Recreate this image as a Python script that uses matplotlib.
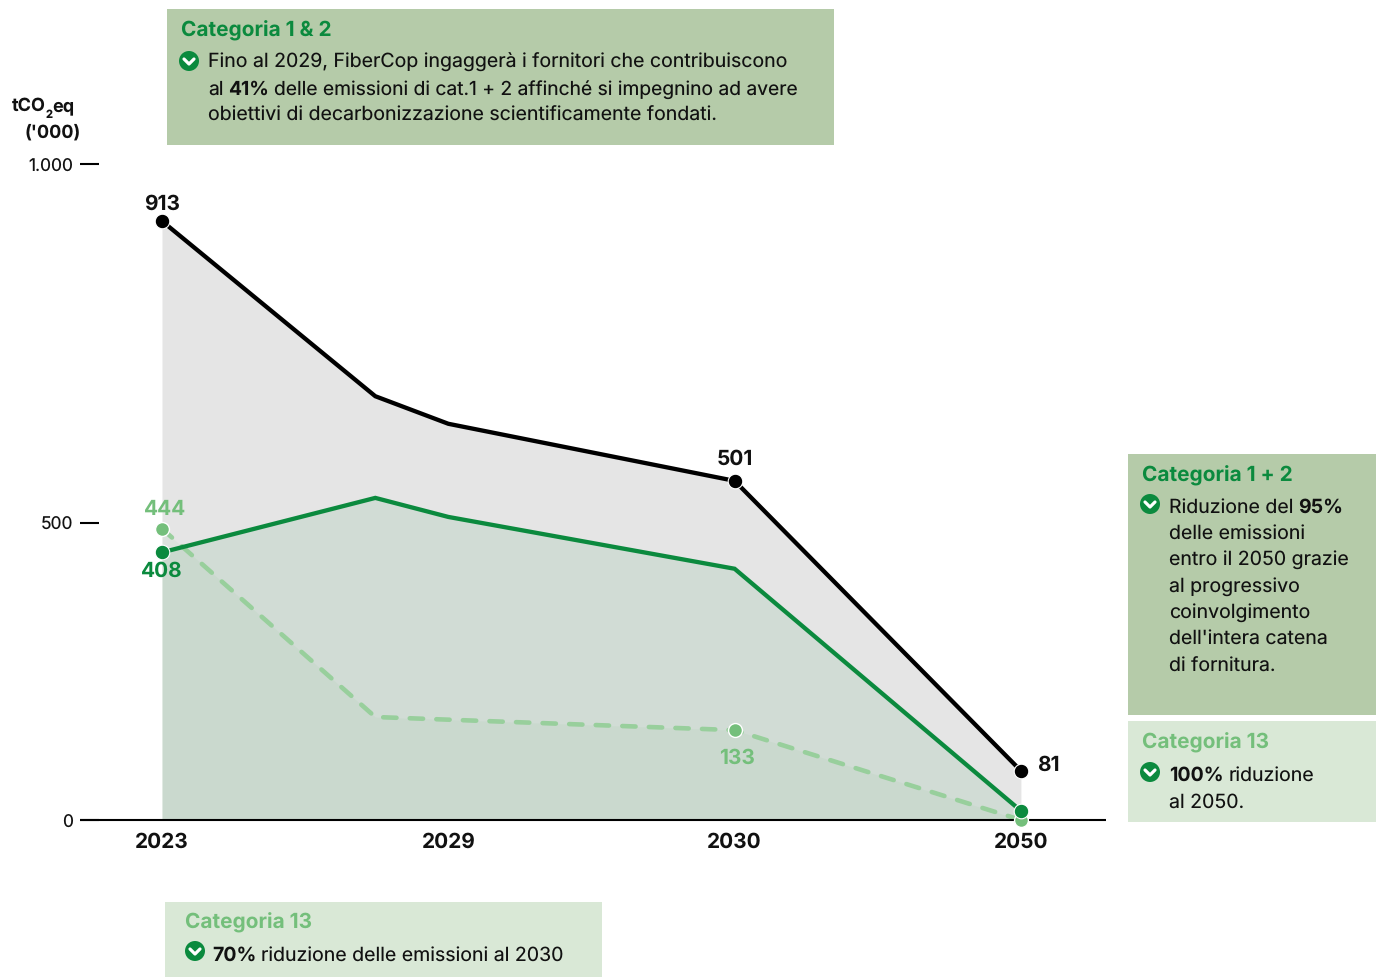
import matplotlib
matplotlib.use('Agg')
import matplotlib.pyplot as plt
from matplotlib.patches import Rectangle, Circle

plt.rcParams['font.family'] = ['Inter', 'DejaVu Sans']
plt.rcParams['text.hinting'] = 'no_hinting'
plt.rcParams['text.hinting_factor'] = 1

# x position 0..3 are the labelled years, the rest are unlabelled knots
years = ['2023', '2029', '2030', '2050']
year_pos = [0, 1, 2, 3]
x_total = [0, 0.745, 1, 2, 3]
total = [913, 646, 604, 517, 75]
cat12 = [408, 491, 462, 383, 14]
x_cat13 = [0, 0.745, 2, 3]
cat13 = [444, 157, 137, 0]
# the 500 tick sits off-scale in the original
ytick_pos = [0, 453, 1000]
ytick_labels = ['0', '500', '1.000']

BLACK = '#000000'
GREEN = '#0B8A3E'
LIGHT = '#74BF7B'
DASH = '#98CF9C'
BOX_DARK = '#B5CBA9'
BOX_LIGHT = '#D9E8D6'
INK = '#111111'
W, H = 1376, 977

fig = plt.figure(figsize=(W / 100, H / 100), dpi=100, facecolor='white')

# overlay in pixel coordinates for the note boxes
bg = fig.add_axes([0, 0, 1, 1])
bg.set_xlim(0, W)
bg.set_ylim(H, 0)
bg.axis('off')

ax = fig.add_axes([80 / W, 1 - 820 / H, 1026 / W, 656 / H])
ax.patch.set_visible(False)
ax.set_xlim(-82 / 286.3, 944 / 286.3)
ax.set_ylim(0, 1000)

ax.fill_between(x_total, total, color='#E5E5E5', lw=0, zorder=1)
ax.fill_between(x_total, cat12, color=GREEN, alpha=0.09, lw=0, zorder=2)
ax.fill_between(x_cat13, cat13, color=LIGHT, alpha=0.075, lw=0, zorder=3)

ax.plot(x_cat13, cat13, color=DASH, lw=3.3, dashes=(2.9, 2.9), dash_capstyle='round',
        zorder=4, clip_on=False)
ax.plot(x_cat13, cat13, ls='none', marker='o', ms=10, mfc=LIGHT, mec='white', mew=1,
        markevery=[0, 2, 3], zorder=5, clip_on=False)
ax.plot(x_total, cat12, color=GREEN, lw=3.1, zorder=6, solid_joinstyle='miter', clip_on=False)
ax.plot(x_total, cat12, ls='none', marker='o', ms=10.5, mfc=GREEN, mec='white', mew=0.8,
        markevery=[0, 4], zorder=7, clip_on=False)
ax.plot(x_total, total, color=BLACK, lw=3.1, zorder=8, solid_joinstyle='miter', clip_on=False)
ax.plot(x_total, total, ls='none', marker='o', ms=10.5, mfc=BLACK, mec='white', mew=0.8,
        markevery=[0, 3, 4], zorder=9, clip_on=False)

for side in ['top', 'right', 'left']:
    ax.spines[side].set_visible(False)
ax.spines['bottom'].set_linewidth(1.5)
ax.spines['bottom'].set_capstyle('butt')
ax.spines['bottom'].set_zorder(4)
ax.set_yticks(ytick_pos, ytick_labels, fontsize=12.5, color=INK)
ax.tick_params(axis='y', direction='in', length=13.7, width=1.5, pad=5)
ax.set_xticks(year_pos, years, fontsize=15, fontweight='bold', color=INK)
ax.tick_params(axis='x', length=0, pad=9)


def runs(x, y, parts, size=14.05, color=INK):
    # draw a line of mixed weight text, parts are (text, weight)
    r = fig.canvas.get_renderer()
    for txt, weight in parts:
        t = bg.text(x, y, txt, fontsize=size, fontweight=weight, color=color,
                    ha='left', va='baseline', zorder=12)
        x = x + t.get_window_extent(r).width + size * 0.36


def check(x, y):
    bg.add_patch(Circle((x, y), 10, fc=GREEN, ec='none', zorder=12))
    bg.plot([x - 5, x, x + 5], [y - 2, y + 3, y - 2], color='white', lw=2.3, zorder=13,
            solid_capstyle='round', solid_joinstyle='round')


def box(x0, y0, x1, y1, color):
    bg.add_patch(Rectangle((x0, y0), x1 - x0, y1 - y0, fc=color, ec='none', zorder=11))


# top box
box(167, 9, 834, 145, BOX_DARK)
runs(181, 36.5, [('Categoria 1 & 2', 'bold')], size=15, color=GREEN)
check(189, 61)
runs(208, 68, [('Fino al 2029, FiberCop ingaggerà i fornitori che contribuiscono', 'normal')])
runs(208, 95, [('al', 'normal'), ('41%', 'bold'), ('delle emissioni di cat.1 + 2 affinché si impegnino ad avere', 'normal')], size=13.85)
runs(208, 121, [('obiettivi di decarbonizzazione scientificamente fondati.', 'normal')])

# right boxes
box(1128, 454, 1376, 715, BOX_DARK)
runs(1142, 481, [('Categoria 1 + 2', 'bold')], size=15, color=GREEN)
check(1150, 504)
runs(1169, 512.5, [('Riduzione del', 'normal'), ('95%', 'bold')])
right_lines = ['delle emissioni', 'entro il 2050 grazie', 'al progressivo',
               'coinvolgimento', "dell'intera catena", 'di fornitura.']
for line, yy in zip(right_lines, [539, 565, 592, 618, 644, 671.5]):
    runs(1169, yy, [(line, 'normal')])

box(1128, 721, 1376, 822, BOX_LIGHT)
runs(1142, 748.5, [('Categoria 13', 'bold')], size=15, color=LIGHT)
check(1150, 772)
runs(1169, 781, [('100%', 'bold'), ('riduzione', 'normal')])
runs(1169, 808, [('al 2050.', 'normal')])

# bottom box
box(165, 902, 602, 977, BOX_LIGHT)
runs(185, 928.5, [('Categoria 13', 'bold')], size=15, color=LIGHT)
check(195, 951)
runs(212, 961, [('70%', 'bold'), ('riduzione delle emissioni al 2030', 'normal')])

# axis title
bg.text(12, 111, 'tCO', fontsize=13, fontweight='bold', color=INK, zorder=12)
bg.text(45.5, 118, '2', fontsize=8, fontweight='bold', color=INK, zorder=12)
bg.text(52, 111, 'eq', fontsize=13, fontweight='bold', color=INK, zorder=12)
bg.text(25, 138, "('000)", fontsize=13, fontweight='bold', color=INK, zorder=12)

# value labels
val_labels = [('913', 0, 913, 0, -17, 'center', INK), ('501', 2, 517, 0, -22, 'center', INK),
              ('81', 3, 75, 16, -5, 'left', INK), ('444', 0, 444, 3, -19, 'center', LIGHT),
              ('408', 0, 408, 0, 19, 'center', GREEN), ('133', 2, 137, 2, 28, 'center', LIGHT)]
for txt, xv, yv, dx, dy, ha, col in val_labels:
    ax.annotate(txt, (xv, yv), xytext=(dx * 0.72, -dy * 0.72), textcoords='offset points',
                fontsize=15, fontweight='bold', color=col, ha=ha, va='center', zorder=10)

fig.savefig('out.png', dpi=100)
